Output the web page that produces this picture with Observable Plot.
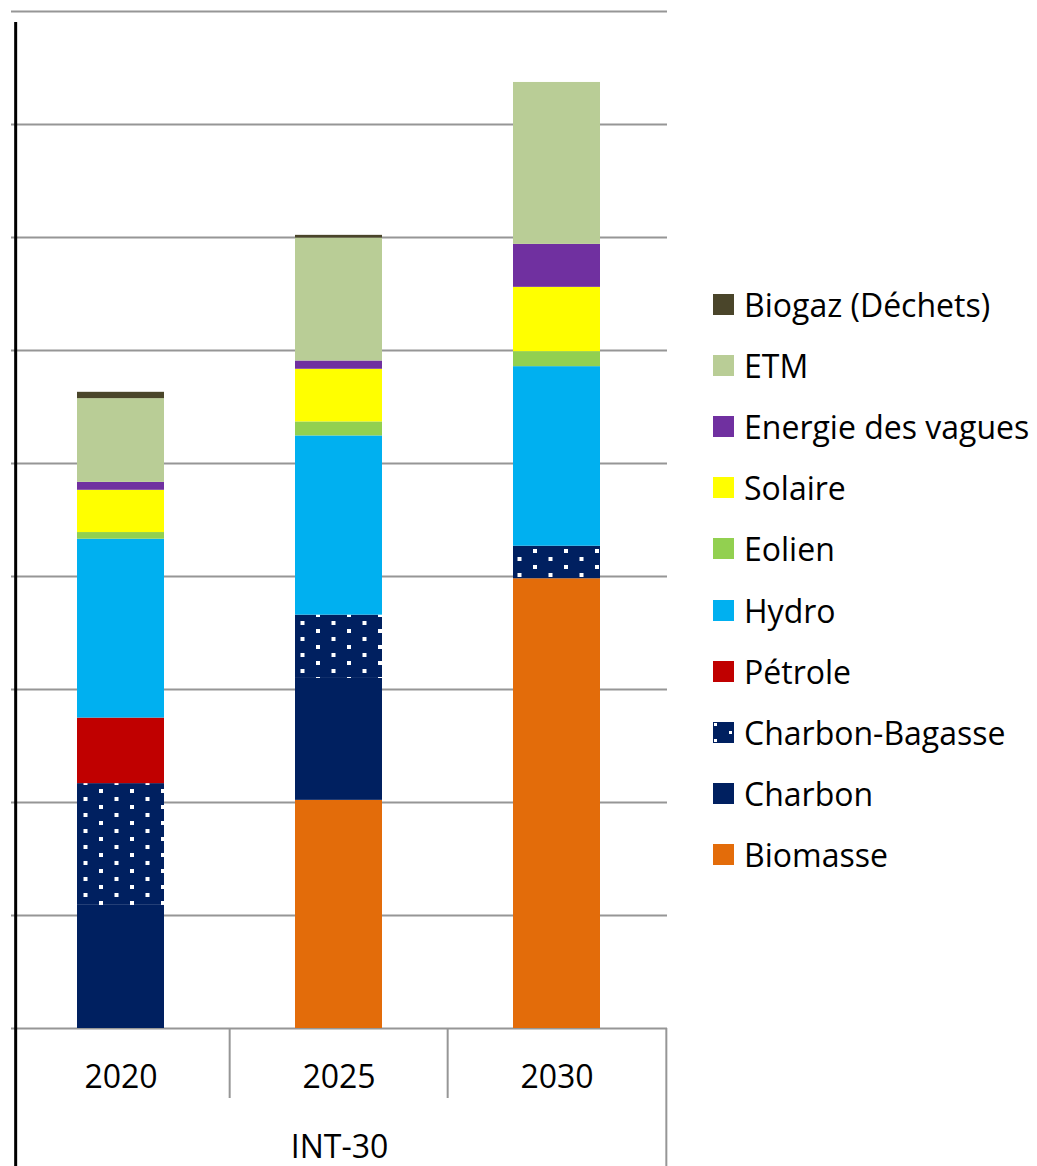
<!DOCTYPE html>
<html>
<head>
<meta charset="utf-8">
<script src="https://cdn.jsdelivr.net/npm/d3@7"></script>
<script src="https://cdn.jsdelivr.net/npm/@observablehq/plot@0.6"></script>
<style>
  html, body { margin: 0; padding: 0; background: #fff; }
  #wrap { position: relative; width: 1037px; height: 1166px; overflow: hidden; font-family: "Open Sans", sans-serif; }
  #chart { position: absolute; left: 0; top: 0; }
  #legend { position: absolute; left: 713px; top: 274px; }
  .row { display: flex; align-items: center; height: 61.1px; font-size: 32px; color: #000; white-space: nowrap; }
  .sw { width: 21px; height: 21px; margin-right: 10px; flex: none; }
</style>
</head>
<body>
<div id="wrap"><div id="chart"></div><div id="legend"></div></div>
<script>
// ---- data ----
const years = ["2020", "2025", "2030"];
const groupLabel = "INT-30";
const sources = ["Biomasse", "Charbon", "Charbon-Bagasse", "Pétrole", "Hydro", "Eolien", "Solaire", "Energie des vagues", "ETM", "Biogaz (Déchets)"];
const colors = ["#e36c0a", "#002060", "url(#bagasse)", "#c00000", "#00b0f0", "#92d050", "#ffff00", "#7030a0", "#b9cd96", "#4a452a"];
const biomasse       = [0, 201.9, 398.0];
const charbon        = [109.0, 107.9, 0];
const charbonBagasse = [107.7, 56.0, 28.8];
const petrole        = [58.0, 0, 0];
const hydro          = [158.3, 158.6, 158.9];
const eolien         = [5.9, 12.4, 13.3];
const solaire        = [37.4, 46.6, 56.9];
const vagues         = [7.0, 7.3, 38.0];
const etm            = [74.1, 108.8, 143.3];
const biogaz         = [5.6, 2.4, 0];
const gridTicks = [0, 100, 200, 300, 400, 500, 600, 700, 800, 900];

const series = [biomasse, charbon, charbonBagasse, petrole, hydro, eolien, solaire, vagues, etm, biogaz];
const table = [];
sources.forEach((s, i) => years.forEach((y, j) => table.push({source: s, year: y, value: series[i][j]})));

// ---- layout ----
const W = 680, H = 1166;
const mL = 11, mR = 13, mT = 11, mB = 138;
const step = (W - mL - mR) / years.length;
const frameH = H - mT - mB;
const gridColor = "#969696";

const plot = Plot.plot({
  width: W,
  height: H,
  marginLeft: mL, marginRight: mR, marginTop: mT, marginBottom: mB,
  style: {fontFamily: "Open Sans, sans-serif", background: "white", color: "black"},
  x: {domain: years, paddingInner: 0.6, paddingOuter: 0.3, axis: null},
  y: {domain: [0, 900], axis: null},
  color: {domain: sources, range: colors},
  marks: [
    Plot.ruleY(gridTicks, {stroke: gridColor, strokeWidth: 2}),
    Plot.barY(table, {x: "year", y: "value", fill: "source"}),
    // category separators below the axis
    Plot.ruleX(years.slice(1), {x: d => d, dx: -step / 2, insetTop: frameH, insetBottom: -70, stroke: gridColor, strokeWidth: 2}),
    Plot.ruleX(years.slice(-1), {x: d => d, dx: step / 2, insetTop: frameH, insetBottom: -mB, stroke: gridColor, strokeWidth: 2}),
    // left black axis line
    Plot.ruleX(years.slice(0, 1), {x: d => d, dx: -step / 2 + 4, insetTop: 11, insetBottom: -mB, stroke: "black", strokeWidth: 3}),
    Plot.text(years, {x: d => d, frameAnchor: "bottom", dy: 59, fontSize: 32, fill: "black"}),
    Plot.text([groupLabel], {frameAnchor: "bottom", dy: 129, fontSize: 32, fill: "black"})
  ]
});

d3.select(plot).insert("defs", ":first-child").html(
  '<pattern id="bagasse" patternUnits="userSpaceOnUse" width="31" height="16" x="6" y="5">' +
  '<rect width="31" height="16" fill="#002060"/>' +
  '<rect x="0" y="0" width="4" height="4" fill="#fff"/>' +
  '<rect x="15.5" y="8" width="4" height="4" fill="#fff"/>' +
  '</pattern>'
);
document.getElementById("chart").appendChild(plot);

// ---- legend (top to bottom = reverse stack order) ----
const legend = document.getElementById("legend");
sources.slice().reverse().forEach(s => {
  const c = colors[sources.indexOf(s)];
  const row = document.createElement("div");
  row.className = "row";
  let sw;
  if (c.startsWith("url")) {
    sw = '<svg class="sw" width="21" height="21"><rect width="21" height="21" fill="#002060"/>' +
         '<rect x="1" y="1" width="3" height="3" fill="#fff"/><rect x="16" y="9" width="3" height="3" fill="#fff"/>' +
         '<rect x="1" y="17" width="3" height="3" fill="#fff"/></svg>';
  } else {
    sw = '<div class="sw" style="background:' + c + '"></div>';
  }
  row.innerHTML = sw + '<span>' + s + '</span>';
  legend.appendChild(row);
});
</script>
</body>
</html>
